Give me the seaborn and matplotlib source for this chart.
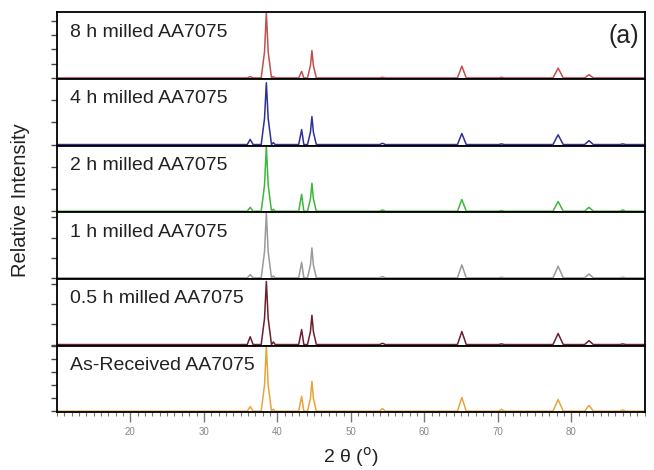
import numpy as np
import pandas as pd
import matplotlib.pyplot as plt
import seaborn as sns

# 2-theta sample positions (deg) and relative intensities
two_theta = [10, 35.9, 36.3, 36.7, 37.8, 38.25, 38.5, 38.75, 39.2, 39.45, 39.7,
             42.9, 43.3, 43.6, 44.1, 44.5, 44.7, 44.9, 45.3, 53.9, 54.3, 54.7,
             64.5, 65.1, 65.7, 70.1, 70.5, 70.9, 77.5, 78.2, 78.9, 81.8, 82.4, 83.0,
             86.6, 87.0, 87.4, 90]

milled_8h = [0, 0, 2, 0, 0, 40, 100, 40, 0, 2, 0, 0, 10, 0, 0, 19, 42, 19, 0, 0, 1, 0,
             0, 18, 0, 0, 1, 0, 0, 15, 0, 0, 5, 0, 0, 0, 0, 0]
milled_4h = [0, 0, 8, 0, 0, 40, 95, 40, 0, 3, 0, 0, 23, 0, 0, 19, 43, 19, 0, 0, 2, 0,
             0, 17, 0, 0, 1, 0, 0, 15, 0, 0, 6, 0, 0, 1, 0, 0]
milled_2h = [0, 0, 6, 0, 0, 40, 100, 40, 0, 3, 0, 0, 26, 0, 0, 19, 43, 19, 0, 0, 2, 0,
             0, 18, 0, 0, 1, 0, 0, 15, 0, 0, 6, 0, 0, 2, 0, 0]
milled_1h = [0, 0, 5, 0, 0, 40, 100, 40, 0, 3, 0, 0, 24, 0, 0, 20, 46, 20, 0, 0, 2, 0,
             0, 20, 0, 0, 1, 0, 0, 18, 0, 0, 6, 0, 0, 1, 0, 0]
milled_05h = [0, 0, 12, 0, 0, 40, 97, 40, 0, 4, 0, 0, 23, 0, 0, 20, 45, 20, 0, 0, 2, 0,
              0, 20, 0, 0, 1, 0, 0, 17, 0, 0, 6, 0, 0, 1, 0, 0]
as_received = [0, 0, 7, 0, 0, 40, 100, 40, 0, 3, 0, 0, 23, 0, 0, 20, 46, 20, 0, 0, 4, 0,
               0, 21, 0, 0, 3, 0, 0, 18, 0, 0, 9, 0, 0, 2, 0, 0]

labels = ["8 h milled AA7075", "4 h milled AA7075", "2 h milled AA7075",
          "1 h milled AA7075", "0.5 h milled AA7075", "As-Received AA7075"]
series = [milled_8h, milled_4h, milled_2h, milled_1h, milled_05h, as_received]
colors = ["#c0504d", "#2f2f96", "#3cb83c", "#9a9a9a", "#6e1f2e", "#e8a43a"]
ytick_steps = [22, 34, 34, 31, 31, 20]

sns.set_style("white")
plt.rcParams["font.family"] = ["Liberation Sans", "DejaVu Sans"]

fig, axes = plt.subplots(6, 1, figsize=(6.54, 4.70), dpi=100, sharex=True)
fig.subplots_adjust(left=0.087, right=0.986, top=0.974, bottom=0.123, hspace=0)

for ax, lab, ys, c, step in zip(axes, labels, series, colors, ytick_steps):
    df = pd.DataFrame({"two_theta": two_theta, "intensity": ys})
    sns.lineplot(data=df, x="two_theta", y="intensity", color=c, lw=1.1, ax=ax)
    ax.set_xlim(10, 90)
    ax.set_ylim(-1.5, 101)
    ax.set_yticks(np.arange(0, 101, step))
    ax.set_yticklabels([])
    ax.set_ylabel("")
    ax.set_xlabel("")
    ax.tick_params(axis="y", direction="out", length=4, width=1, color="#444444", left=True)
    ax.tick_params(axis="x", bottom=False)
    for sp in ax.spines.values():
        sp.set_color("black")
        sp.set_linewidth(1.3)
    ax.text(0.022, 0.70, lab, transform=ax.transAxes, fontsize=14, va="center", ha="left",
            color="#222222")

axes[0].text(0.99, 0.64, "(a)", transform=axes[0].transAxes, fontsize=18, ha="right", va="center",
             color="#222222")

bottom = axes[-1]
bottom.set_xticks(np.arange(20, 81, 10))
bottom.set_xticks(np.arange(10, 91, 1), minor=True)
bottom.tick_params(axis="x", which="major", bottom=True, direction="out", length=7, width=1,
                   color="#777777", labelsize=7, labelcolor="#888888")
bottom.tick_params(axis="x", which="minor", bottom=True, direction="out", length=3, width=0.8,
                   color="#777777")
bottom.set_xlabel("2 θ ($^{\\mathrm{o}}$)", fontsize=14, labelpad=6, color="#222222")

fig.text(0.032, 0.574, "Relative Intensity", rotation=90, fontsize=14.5, ha="center", va="center",
         color="#222222")

plt.savefig("out.png", dpi=100)
